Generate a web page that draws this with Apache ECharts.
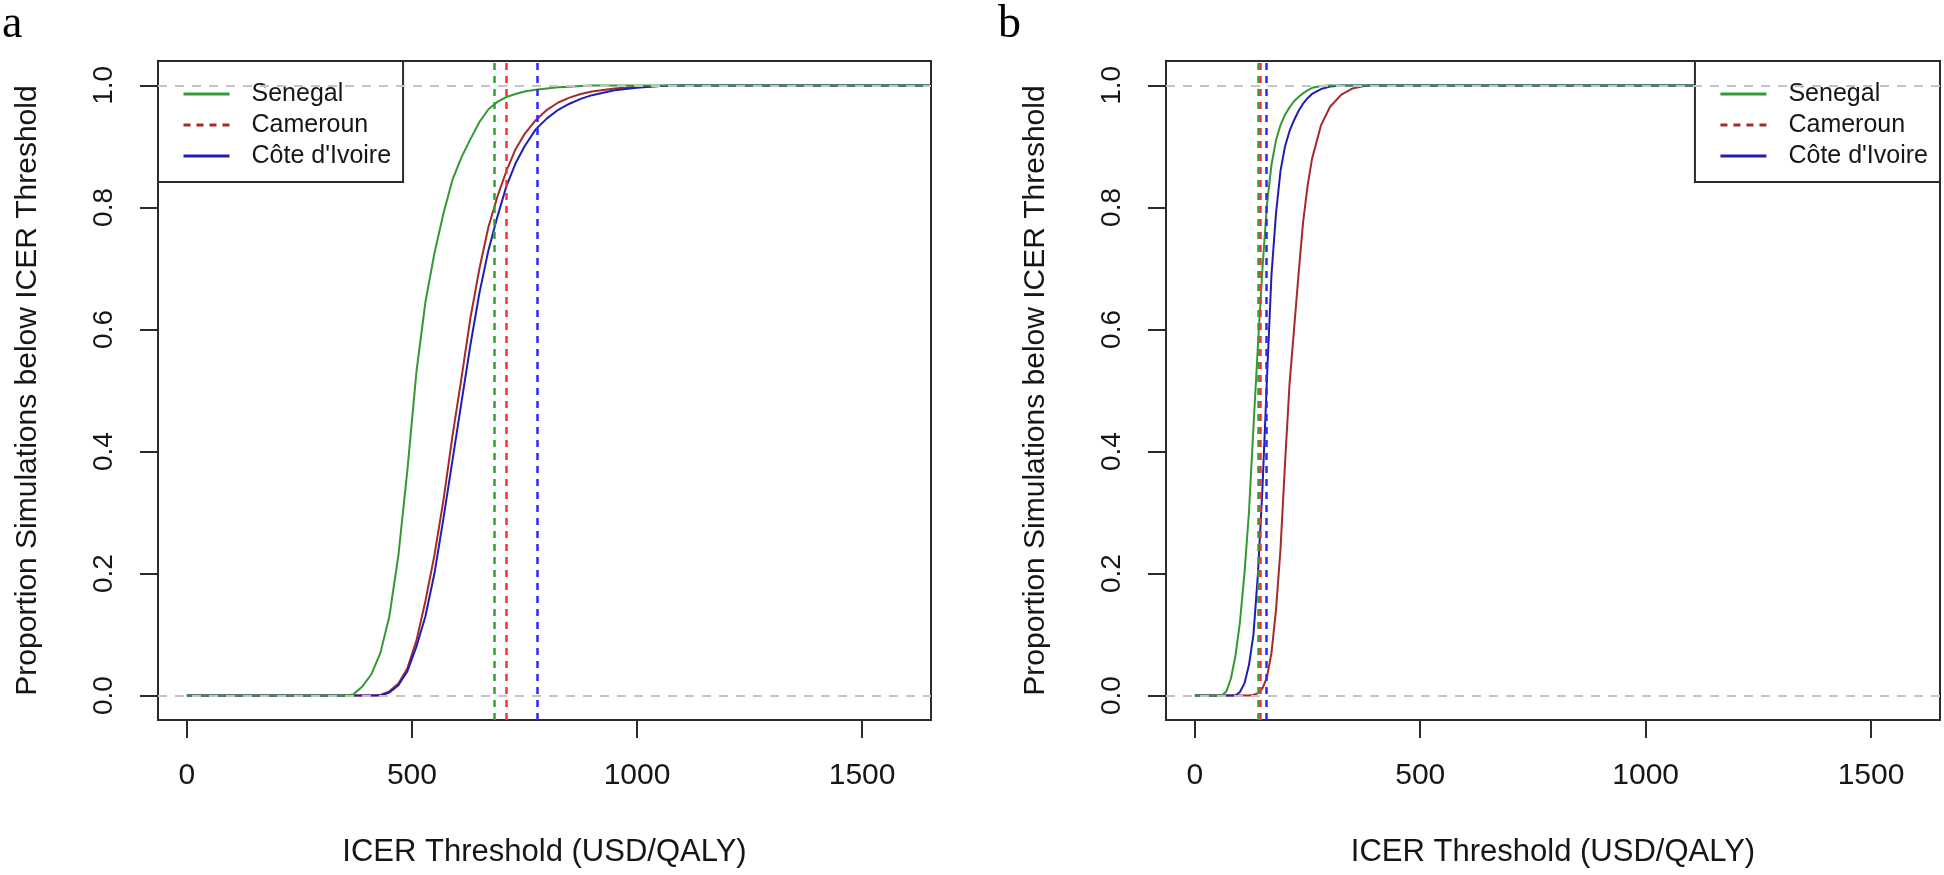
<!DOCTYPE html>
<html>
<head>
<meta charset="utf-8">
<script src="https://cdn.jsdelivr.net/npm/echarts@6/dist/echarts.min.js"></script>
<style>
html,body{margin:0;padding:0;background:#fff;}
#chart{width:1944px;height:875px;}
</style>
</head>
<body>
<div id="chart"></div>
<script>
// ---------- DATA ----------
const seriesNames = ['Senegal', 'Cameroun', "Côte d'Ivoire"];
const xTicks = [0, 500, 1000, 1500];
const yTicks = [0, 0.2, 0.4, 0.6, 0.8, 1.0];

// Panel a: ICER thresholds (USD/QALY)
const thresholdsA = [0, 350, 370, 390, 410, 430, 450, 470, 490, 510, 530, 550, 570, 590, 610, 630, 650, 670, 690, 710, 730, 750, 775, 800, 825, 850, 875, 900, 950, 1000, 1050, 1100, 1200, 1650];
const senegalA = [0, 0, 0.002, 0.015, 0.035, 0.07, 0.13, 0.23, 0.37, 0.53, 0.645, 0.725, 0.79, 0.845, 0.882, 0.912, 0.94, 0.961, 0.973, 0.981, 0.986, 0.99, 0.993, 0.995, 0.997, 0.998, 0.999, 1, 1, 1, 1, 1, 1, 1];
const camerounA = [0, 0, 0, 0, 0, 0.001, 0.007, 0.02, 0.045, 0.09, 0.155, 0.23, 0.32, 0.425, 0.52, 0.619, 0.70, 0.768, 0.818, 0.86, 0.895, 0.92, 0.943, 0.96, 0.972, 0.98, 0.986, 0.99, 0.995, 0.998, 0.999, 1, 1, 1];
const coteIvoireA = [0, 0, 0, 0, 0, 0, 0.005, 0.017, 0.04, 0.08, 0.13, 0.2, 0.29, 0.385, 0.48, 0.575, 0.66, 0.73, 0.785, 0.835, 0.872, 0.9, 0.928, 0.946, 0.96, 0.97, 0.978, 0.984, 0.992, 0.996, 0.999, 1, 1, 1];
const cutoffsA = [683, 710, 778];

// Panel b
const thresholdsB = [0, 50, 60, 70, 80, 90, 100, 110, 120, 130, 140, 150, 160, 170, 180, 190, 200, 210, 220, 230, 240, 250, 260, 280, 300, 325, 350, 375, 400, 450, 1650];
const senegalB = [0, 0, 0, 0.007, 0.028, 0.065, 0.12, 0.2, 0.3, 0.44, 0.575, 0.7, 0.805, 0.87, 0.91, 0.935, 0.952, 0.964, 0.974, 0.981, 0.987, 0.992, 0.996, 0.999, 1, 1, 1, 1, 1, 1, 1];
const camerounB = [0, 0, 0, 0, 0, 0, 0, 0, 0, 0.001, 0.004, 0.012, 0.03, 0.07, 0.14, 0.24, 0.38, 0.51, 0.6, 0.69, 0.775, 0.835, 0.88, 0.935, 0.965, 0.985, 0.995, 0.999, 1, 1, 1];
const coteIvoireB = [0, 0, 0, 0, 0, 0, 0.006, 0.02, 0.05, 0.1, 0.2, 0.34, 0.52, 0.69, 0.79, 0.86, 0.9, 0.925, 0.943, 0.958, 0.97, 0.979, 0.986, 0.994, 0.998, 1, 1, 1, 1, 1, 1];
const cutoffsB = [140, 145, 158];

// ---------- STYLE ----------
const FONT = "'Liberation Sans', Arial, sans-serif";
const curveColors = ['#339933', '#a52a2a', '#1e1eb4'];
const cutoffColors = ['#33a033', '#ff3030', '#2a2aff'];
const TXT = '#161616';
const BOX = '#2b2b2b';

function zip(xs, ys) { return xs.map((x, i) => [x, ys[i]]); }

const panels = [
  { xs: thresholdsA, ys: [senegalA, camerounA, coteIvoireA], cut: cutoffsA },
  { xs: thresholdsB, ys: [senegalB, camerounB, coteIvoireB], cut: cutoffsB }
];

const grids = [
  { left: 158, top: 61, width: 773, height: 659, show: true, borderColor: BOX, borderWidth: 2, backgroundColor: 'transparent' },
  { left: 1166, top: 61, width: 774, height: 659, show: true, borderColor: BOX, borderWidth: 2, backgroundColor: 'transparent' }
];

const xAxes = grids.map((g, i) => ({
  type: 'value', gridIndex: i, min: -64, max: 1653,
  axisLine: { show: false, onZero: false }, splitLine: { show: false },
  axisTick: { show: true, length: 18, lineStyle: { color: BOX, width: 2 }, customValues: xTicks },
  axisLabel: { customValues: xTicks, fontSize: 30, color: TXT, fontFamily: FONT, margin: 41,
    formatter: v => String(Math.round(v)) },
  name: 'ICER Threshold (USD/QALY)', nameLocation: 'middle', nameGap: 117,
  nameTextStyle: { fontSize: 31, color: TXT, fontFamily: FONT }
}));

const yAxes = grids.map((g, i) => ({
  type: 'value', gridIndex: i, min: -0.04, max: 1.04,
  axisLine: { show: false, onZero: false }, splitLine: { show: false },
  axisTick: { show: true, length: 18, lineStyle: { color: BOX, width: 2 }, customValues: yTicks },
  axisLabel: { customValues: yTicks, rotate: 90, fontSize: 28, color: TXT, fontFamily: FONT, margin: 40,
    formatter: v => Number(v).toFixed(1) },
  name: 'Proportion Simulations below ICER Threshold', nameLocation: 'middle', nameGap: 115,
  nameTextStyle: { fontSize: 30, color: TXT, fontFamily: FONT }
}));

const series = [];
panels.forEach((p, pi) => {
  // draw order: Cameroun, Côte d'Ivoire, Senegal (Senegal on top)
  [1, 2, 0].forEach(k => {
    series.push({
      type: 'line', name: seriesNames[k], xAxisIndex: pi, yAxisIndex: pi,
      data: zip(p.xs, p.ys[k]), symbol: 'none', smooth: false, animation: false,
      lineStyle: { color: curveColors[k], width: 2 }, itemStyle: { color: curveColors[k] }, z: 2
    });
  });
  series.push({
    type: 'line', name: 'ref' + pi, xAxisIndex: pi, yAxisIndex: pi, data: [], z: 4, silent: true, animation: false,
    markLine: {
      symbol: ['none', 'none'], silent: true, animation: false, label: { show: false },
      lineStyle: { color: '#c4c4c4', type: [9, 8], width: 2 },
      emphasis: { disabled: true },
      data: [
        { yAxis: 0 }, { yAxis: 1 },
        ...p.cut.map((c, j) => ({ xAxis: c, lineStyle: { color: cutoffColors[j], type: [7, 6], width: 2.5 } }))
      ]
    }
  });
});

const legendData = [
  { name: 'Senegal' },
  { name: 'Cameroun', lineStyle: { type: [7, 6], width: 3 } },
  { name: "Côte d'Ivoire" }
];
const legendCommon = {
  orient: 'vertical', top: 61, data: legendData,
  itemWidth: 46, itemHeight: 14, itemGap: 5,
  padding: [20, 12, 13, 24], borderColor: BOX, borderWidth: 2, backgroundColor: '#fff',
  textStyle: { fontSize: 25, lineHeight: 26, color: TXT, fontFamily: FONT, padding: [0, 0, 0, 17] },
  itemStyle: { opacity: 0 },
  lineStyle: { width: 3 }, selectedMode: false
};

const option = {
  backgroundColor: '#fff',
  animation: false,
  title: [
    { text: 'a', left: 2, top: 2, padding: 0, textStyle: { fontFamily: "'Liberation Serif', 'Times New Roman', serif", fontSize: 46, fontWeight: 'normal', color: '#000' } },
    { text: 'b', left: 998, top: 2, padding: 0, textStyle: { fontFamily: "'Liberation Serif', 'Times New Roman', serif", fontSize: 46, fontWeight: 'normal', color: '#000' } }
  ],
  grid: grids,
  xAxis: xAxes,
  yAxis: yAxes,
  legend: [
    Object.assign({}, legendCommon, { left: 158 }),
    Object.assign({}, legendCommon, { right: 4 })
  ],
  series: series
};

const chart = echarts.init(document.getElementById('chart'), null, { renderer: 'canvas' });
chart.setOption(option);
</script>
</body>
</html>
